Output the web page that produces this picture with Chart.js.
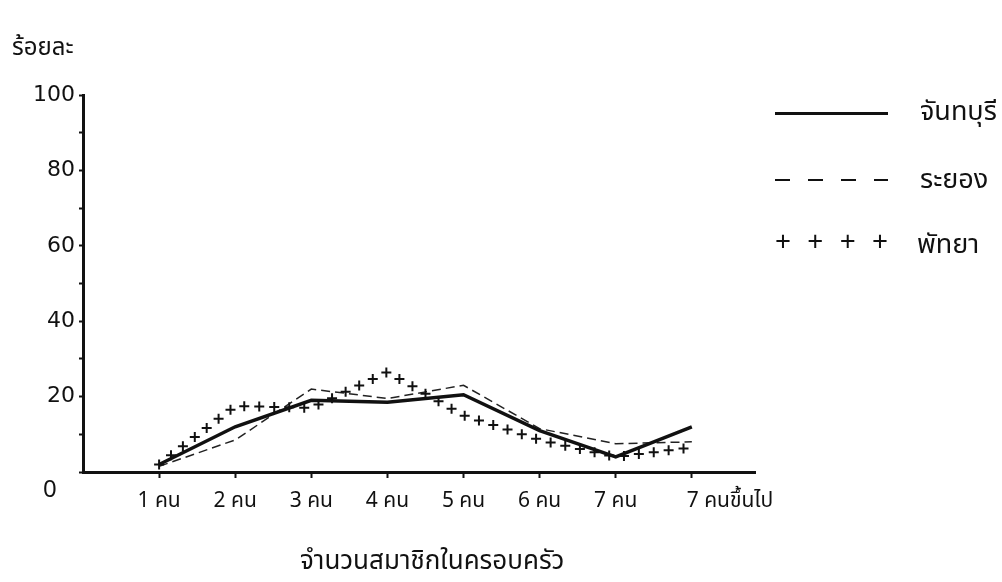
<!DOCTYPE html>
<html lang="th">
<head>
<meta charset="utf-8">
<script src="https://cdn.jsdelivr.net/npm/chart.js@4.4.1/dist/chart.umd.min.js"></script>
<style>
    html, body { margin: 0; padding: 0; background: #fff; }
    body {
        width: 1002px; height: 582px; position: relative; overflow: hidden;
        font-family: 'Noto Sans Thai', 'Loma', 'Garuda', 'Norasi', 'DejaVu Sans', sans-serif;
        color: #111;
    }
    #chartBox { position: absolute; left: 0; top: 0; width: 1002px; height: 582px; }
    .txt { position: absolute; white-space: nowrap; line-height: 1; }
    .sample { position: absolute; left: 775px; width: 113px; }
    .pluses { display: flex; justify-content: space-between; font-size: 28px; line-height: 1; }
</style>
</head>
<body>
<div id="chartBox"><canvas id="familyChart" width="1002" height="582"></canvas></div>

<!-- axis titles -->
<div class="txt" style="left:12px; top:36px; font-size:24px;">ร้อยละ</div>
<div class="txt" style="left:43px; top:478px; font-size:24px;">0</div>
<div class="txt" style="left:300px; top:548px; font-size:26px;">จำนวนสมาชิกในครอบครัว</div>

<!-- legend -->
<div class="sample" style="top:112px; border-top:3px solid #111;"></div>
<div class="sample" style="top:179px; height:2px; background:repeating-linear-gradient(to right, #111 0 15px, transparent 15px 33px);"></div>
<div class="sample pluses" style="top:229px;"><span>+</span><span>+</span><span>+</span><span>+</span></div>
<div class="txt" style="left:920px; top:98px; font-size:27px;">จันทบุรี</div>
<div class="txt" style="left:920px; top:166px; font-size:27px;">ระยอง</div>
<div class="txt" style="left:917px; top:231px; font-size:27px;">พัทยา</div>

<script>
// Data (percent of households)
const xLabels = ['1 คน', '2 คน', '3 คน', '4 คน', '5 คน', '6 คน', '7 คน', '7 คนขึ้นไป'];
const chanthaburi = [2, 12, 19, 18.5, 20.5, 11, 4, 12];
const rayong = [1.5, 8.5, 22, 19.5, 23, 11.5, 7.5, 8];
const pattaya = [2, 17.5, 17, 26.5, 15, 8.5, 4, 6.5];
const yTicks = [0, 10, 20, 30, 40, 50, 60, 70, 80, 90, 100];

// last label sits to the right of its tick, so it gets its own label-only tick
const LAST_LABEL_POS = 7.5;

function toPoints(values) {
    return values.map((v, i) => ({ x: i, y: v }));
}

// Pattaya is drawn as a row of "+" marks along its path
const plusTrail = {
    id: 'plusTrail',
    afterDatasetsDraw(chart) {
        const meta = chart.getDatasetMeta(2);
        const pts = meta.data;
        const ctx = chart.ctx;
        const step = 15;
        const size = 5;
        ctx.save();
        ctx.strokeStyle = '#111';
        ctx.lineWidth = 2;
        let carry = 0;
        for (let i = 0; i < pts.length - 1; i++) {
            const a = pts[i], b = pts[i + 1];
            const dx = b.x - a.x, dy = b.y - a.y;
            const len = Math.hypot(dx, dy);
            let d = carry;
            while (d <= len) {
                const px = a.x + dx * d / len;
                const py = a.y + dy * d / len;
                ctx.beginPath();
                ctx.moveTo(px - size, py);
                ctx.lineTo(px + size, py);
                ctx.moveTo(px, py - size);
                ctx.lineTo(px, py + size);
                ctx.stroke();
                d += step;
            }
            carry = d - len;
        }
        ctx.restore();
    }
};

const ctx = document.getElementById('familyChart').getContext('2d');

new Chart(ctx, {
    type: 'line',
    data: {
        datasets: [
            {
                label: 'จันทบุรี',
                data: toPoints(chanthaburi),
                borderColor: '#111',
                borderWidth: 3.5,
                pointRadius: 0,
                tension: 0,
                fill: false
            },
            {
                label: 'ระยอง',
                data: toPoints(rayong),
                borderColor: '#222',
                borderWidth: 1.5,
                borderDash: [9, 5],
                pointRadius: 0,
                tension: 0,
                fill: false
            },
            {
                label: 'พัทยา',
                data: toPoints(pattaya),
                showLine: false,
                pointRadius: 0,
                fill: false
            }
        ]
    },
    options: {
        responsive: false,
        animation: false,
        layout: { padding: { top: 95, right: 247, left: 0, bottom: 0 } },
        plugins: {
            legend: { display: false },
            tooltip: { enabled: false }
        },
        scales: {
            x: {
                type: 'linear',
                min: -1,
                max: 7.83,
                afterBuildTicks: (axis) => {
                    const ticks = xLabels.map((_, i) => ({ value: i }));
                    ticks.push({ value: LAST_LABEL_POS });
                    axis.ticks = ticks;
                },
                afterFit: (axis) => { axis.height = 110; },
                border: { display: true, color: '#111', width: 3 },
                grid: {
                    drawOnChartArea: false,
                    drawTicks: true,
                    tickLength: 6,
                    tickWidth: 2,
                    tickColor: (c) => (c.tick && c.tick.value === LAST_LABEL_POS ? 'rgba(0,0,0,0)' : '#111')
                },
                ticks: {
                    color: '#111',
                    padding: 12,
                    maxRotation: 0,
                    autoSkip: false,
                    font: { family: "'Noto Sans Thai', 'Loma', 'Garuda', 'DejaVu Sans', sans-serif", size: 21 },
                    callback: (value) => {
                        if (value === LAST_LABEL_POS) return xLabels[xLabels.length - 1];
                        if (value === xLabels.length - 1) return '';
                        return xLabels[value];
                    }
                }
            },
            y: {
                min: 0,
                max: 100,
                afterBuildTicks: (axis) => {
                    axis.ticks = yTicks.map(v => ({ value: v }));
                },
                afterFit: (axis) => { axis.width = 83; },
                border: { display: true, color: '#111', width: 3 },
                grid: {
                    drawOnChartArea: false,
                    drawTicks: true,
                    tickLength: (c) => (c.tick && c.tick.value % 20 === 0 ? 7 : 4),
                    tickWidth: 2,
                    tickColor: '#111'
                },
                ticks: {
                    color: '#111',
                    padding: 4,
                    font: { family: "'DejaVu Sans', sans-serif", size: 22 },
                    callback: (value) => (value % 20 === 0 && value !== 0 ? String(value) : '')
                }
            }
        }
    },
    plugins: [plusTrail]
});
</script>
</body>
</html>
